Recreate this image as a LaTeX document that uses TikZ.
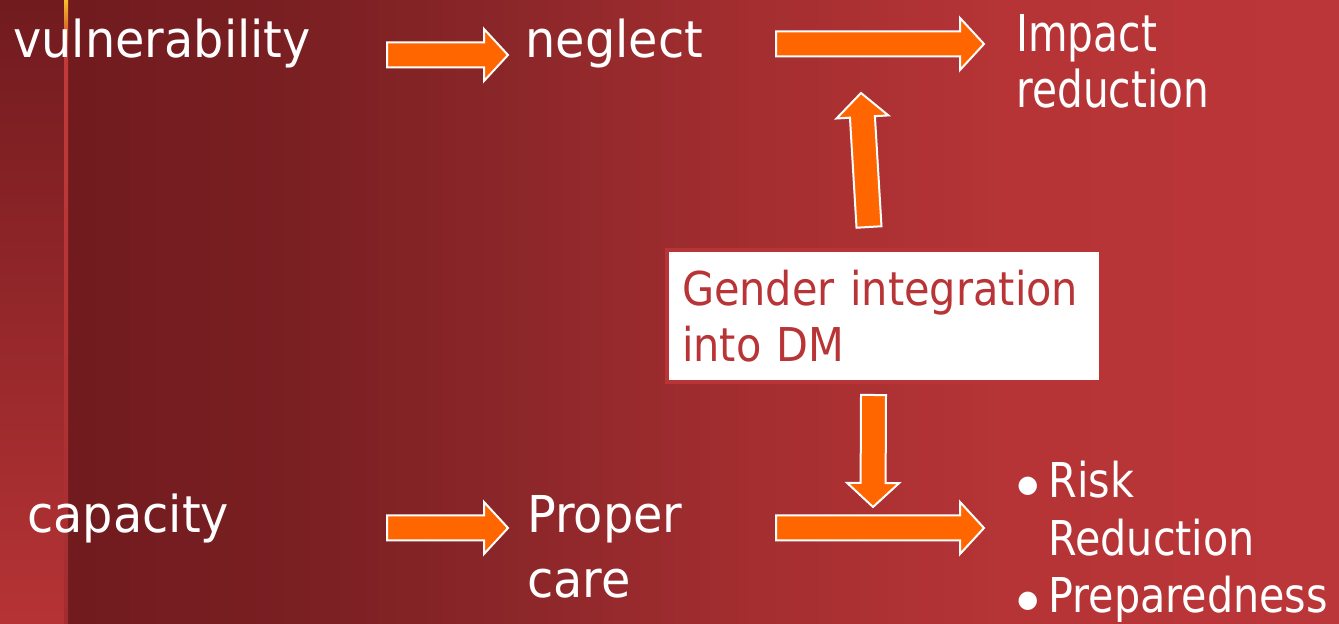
\documentclass[tikz,border=0pt]{standalone}
\usepackage{fontspec}
\setmainfont{DejaVu Sans}[FakeStretch=0.94]
\newfontfamily\gendertext{DejaVu Sans}[FakeStretch=0.89]
\newfontfamily\impacttext{DejaVu Sans}[FakeStretch=0.80]
\newfontfamily\bullettext{DejaVu Sans}[FakeStretch=0.86]
\newfontfamily\dotfont{DejaVu Sans}
\usetikzlibrary{positioning,calc}
\definecolor{SlideDark}{HTML}{711B1F}
\definecolor{SlideWarmA}{HTML}{7A1F22}
\definecolor{SlideWarmB}{HTML}{8A2629}
\definecolor{SlideWarmC}{HTML}{A42E30}
\definecolor{SlideWarmD}{HTML}{B63436}
\definecolor{SlideRed}{HTML}{BB3638}
\definecolor{StripRed}{HTML}{B63335}
\definecolor{MarkGold}{HTML}{F5C02A}
\definecolor{MarkRed}{HTML}{C8302A}
\definecolor{LineRed}{HTML}{C23A3A}
\definecolor{LineDim}{HTML}{A32C30}
\definecolor{ArrowOrange}{HTML}{FF6600}
\definecolor{BoxRed}{HTML}{B83436}
\pgfdeclarehorizontalshading{slidewash}{100bp}{color(0bp)=(SlideDark); color(25bp)=(SlideDark); color(34bp)=(SlideWarmA); color(42bp)=(SlideWarmB); color(52bp)=(SlideWarmC); color(62bp)=(SlideWarmD); color(75bp)=(SlideRed); color(100bp)=(SlideRed)}
\tikzset{
  slide text/.style={
    text=white,
    inner sep=0pt,
    anchor=base west,
    align=left,
    font=\fontsize{25.4}{32}\selectfont
  },
  gender box/.style={
    draw=BoxRed,
    line width=2pt,
    fill=white,
    text=BoxRed,
    font=\gendertext\fontsize{23.3}{28}\selectfont,
    align=left,
    text width=202pt,
    inner xsep=7pt,
    inner ysep=0pt,
    minimum width=217pt,
    minimum height=66pt
  },
  flow arrow/.style={fill=ArrowOrange, draw=white, line width=1pt, line join=miter}
}
\newcommand{\shaftw}{6.25pt}
\newcommand{\headw}{13pt}
\newcommand{\headlen}{12pt}
\newcommand{\dotmark}{\makebox[15.5pt][l]{\raisebox{2.8pt}{\dotfont\fontsize{12}{12}\selectfont ●}}}
% block arrow between two named points
\newcommand{\blockarrow}[2]{%
  \coordinate (ba-base) at ($(#2)!\headlen!(#1)$);
  \draw[flow arrow] ($(#1)!\shaftw!90:(#2)$) -- ($(ba-base)!\shaftw!-90:(#1)$)
    -- ($(ba-base)!\headw!-90:(#1)$) -- (#2) -- ($(ba-base)!\headw!90:(#1)$)
    -- ($(ba-base)!\shaftw!90:(#1)$) -- ($(#1)!\shaftw!-90:(#2)$) -- cycle;}

\begin{document}
\begin{tikzpicture}[x=0.5pt,y=-0.5pt]
\useasboundingbox (0,0) rectangle (1339,624);
% background
\fill[top color=SlideDark, bottom color=StripRed] (0,0) rectangle (66,624);
\fill[shading=slidewash] (66,0) rectangle (1339,624);
\fill[top color=MarkGold, bottom color=MarkRed] (64,0) rectangle (68,48);
\fill[top color=LineRed, bottom color=LineDim] (64,48) rectangle (68,624);
% texts (base of the last line)
\node[slide text] (vul) at (13,58) {vulnerability};
\node[slide text] (neg) at (525,58) {neglect};
\node[slide text, font=\impacttext\fontsize{25.4}{28}\selectfont] (imp) at (1016,108) {Impact\\reduction};
\node[slide text] (cap) at (27,533) {capacity};
\node[slide text, font=\fontsize{25.4}{32.5}\selectfont] (care) at (527,598) {Proper\\care};
\node[gender box] (gdm) at (884,316) {Gender integration\\into DM};
\node[slide text, font=\bullettext\fontsize{24}{28.75}\selectfont] (rr) at (1017,613)
  {\dotmark Risk\\\hspace*{15.5pt}Reduction\\\dotmark Preparedness};
% arrow ends
\coordinate (vul-out) at (387,55);
\coordinate (neg-in) at (508,55);
\coordinate (neg-out) at (776,44);
\coordinate (imp-in) at (984,44);
\coordinate (gdm-up) at (869,227);
\coordinate (imp-below) at (861,93);
\coordinate (gdm-down) at (873.5,395);
\coordinate (rr-above) at (873,507);
\coordinate (cap-out) at (387,528);
\coordinate (care-in) at (508,528);
\coordinate (care-out) at (776,528);
\coordinate (rr-in) at (984,528);
\blockarrow{vul-out}{neg-in}
\blockarrow{neg-out}{imp-in}
\blockarrow{gdm-up}{imp-below}
\blockarrow{gdm-down}{rr-above}
\blockarrow{cap-out}{care-in}
\blockarrow{care-out}{rr-in}
\end{tikzpicture}
\end{document}
